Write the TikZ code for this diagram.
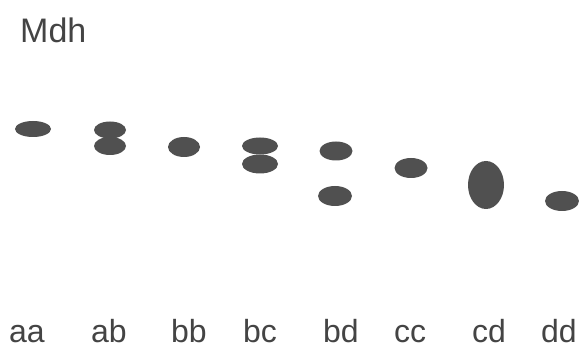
\documentclass[tikz,border=0pt]{standalone}
\usepackage{fontspec}
\setmainfont{Liberation Sans}
\usepackage{xcolor}
\definecolor{bandgray}{RGB}{80,80,80}
\definecolor{txtgray}{RGB}{68,68,68}
\tikzset{
  lane/.style={anchor=base, inner sep=0pt, text depth=0pt, text=txtgray, font=\fontsize{32}{36}\selectfont},
  band/.style={fill=bandgray}
}

\begin{document}
\begin{tikzpicture}[x=1pt,y=-1pt]
            \useasboundingbox (0,0) rectangle (579,350);
            \node[lane, anchor=base west, font=\fontsize{34}{38}\selectfont] (title) at (20,43) {Mdh};
            % bands
            \fill[band] (33,129) ellipse [x radius=18pt, y radius=8pt];
            \fill[band] (110,130) ellipse [x radius=16pt, y radius=8.5pt];
            \fill[band] (110,146) ellipse [x radius=16pt, y radius=9pt];
            \fill[band] (184,147) ellipse [x radius=16pt, y radius=10pt];
            \fill[band] (260,146) ellipse [x radius=18pt, y radius=8.5pt];
            \fill[band] (260,164) ellipse [x radius=18pt, y radius=9.5pt];
            \fill[band] (336,151) ellipse [x radius=16.5pt, y radius=9.5pt];
            \fill[band] (335,196) ellipse [x radius=17pt, y radius=10pt];
            \fill[band] (411,168) ellipse [x radius=16.5pt, y radius=10pt];
            \fill[band] (486,185) ellipse [x radius=18pt, y radius=24pt];
            \fill[band] (562,201) ellipse [x radius=17pt, y radius=10pt];
            % lane labels
            \node[lane] (aa) at (27,342) {aa};
            \node[lane] (ab) at (109,342) {ab};
            \node[lane] (bb) at (189,342) {bb};
            \node[lane] (bc) at (260,342) {bc};
            \node[lane] (bd) at (341,342) {bd};
            \node[lane] (cc) at (410,342) {cc};
            \node[lane] (cd) at (489,342) {cd};
            \node[lane] (dd) at (559,342) {dd};
        \end{tikzpicture}
\end{document}
